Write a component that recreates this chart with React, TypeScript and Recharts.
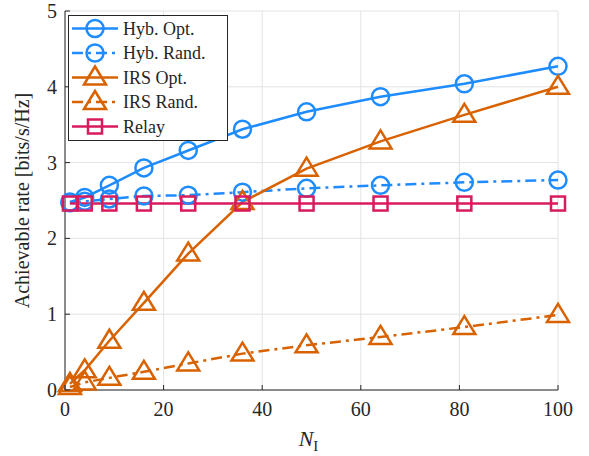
import React from 'react';
import {LineChart, Line, XAxis, YAxis, CartesianGrid} from 'recharts';

// N_I values (number of IRS elements)
const nI = [1, 4, 9, 16, 25, 36, 49, 64, 81, 100];

const hybOpt = [2.48, 2.54, 2.70, 2.93, 3.16, 3.44, 3.67, 3.87, 4.04, 4.27];
const hybRand = [2.47, 2.49, 2.52, 2.56, 2.57, 2.61, 2.66, 2.70, 2.74, 2.77];
const irsOpt = [0.08, 0.26, 0.65, 1.15, 1.80, 2.48, 2.92, 3.28, 3.63, 4.00];
const irsRand = [0.04, 0.10, 0.16, 0.24, 0.35, 0.48, 0.59, 0.70, 0.83, 0.99];
const relay = [2.46, 2.46, 2.46, 2.46, 2.46, 2.46, 2.46, 2.46, 2.46, 2.46];

const xTicks = [0, 20, 40, 60, 80, 100];
const yTicks = [0, 1, 2, 3, 4, 5];

const BLUE = '#1E8CFF';
const ORANGE = '#D96200';
const CRIMSON = '#D81B5E';
const AXIS = '#262626';
const FONT = '"Liberation Serif", "DejaVu Serif", serif';
const DASHDOT = '11 5 3 5';

const series = [
    {key: 'hybOpt', name: 'Hyb. Opt.', color: BLUE, dash: undefined, shape: 'circle'},
    {key: 'hybRand', name: 'Hyb. Rand.', color: BLUE, dash: DASHDOT, shape: 'circle'},
    {key: 'irsOpt', name: 'IRS Opt.', color: ORANGE, dash: undefined, shape: 'triangle'},
    {key: 'irsRand', name: 'IRS Rand.', color: ORANGE, dash: DASHDOT, shape: 'triangle'},
    {key: 'relay', name: 'Relay', color: CRIMSON, dash: undefined, shape: 'square'},
];

const data = nI.map((n, i) => ({
    n,
    hybOpt: hybOpt[i],
    hybRand: hybRand[i],
    irsOpt: irsOpt[i],
    irsRand: irsRand[i],
    relay: relay[i],
}));

const txt = {fontFamily: FONT, fill: AXIS};

function Marker({shape, cx, cy, color}: any) {
    if (cx == null || cy == null) return null;
    if (shape === 'circle') {
        return <circle cx={cx} cy={cy} r={8.5} fill="none" stroke={color} strokeWidth={2.5}/>;
    }
    if (shape === 'triangle') {
        const pts = `${cx},${cy - 11} ${cx - 11},${cy + 7} ${cx + 11},${cy + 7}`;
        return <polygon points={pts} fill="none" stroke={color} strokeWidth={2.5}/>;
    }
    return <rect x={cx - 7} y={cy - 7} width={14} height={14} fill="none" stroke={color} strokeWidth={2.5}/>;
}

const XTick = ({x, y, payload}: any) => (
    <g>
        <line x1={x} y1={y} x2={x} y2={y - 5} stroke={AXIS}/>
        <text x={x} y={y + 26} textAnchor="middle" style={{...txt, fontSize: 20}}>
            {payload.value}
        </text>
    </g>
);

const YTick = ({x, y, payload}: any) => (
    <g>
        <line x1={x} y1={y} x2={x + 5} y2={y} stroke={AXIS}/>
        <text x={x - 8} y={y + 7} textAnchor="end" style={{...txt, fontSize: 20}}>
            {payload.value}
        </text>
    </g>
);

const TopTick = ({x, y}: any) => <line x1={x} y1={y} x2={x} y2={y + 5} stroke={AXIS}/>;
const RightTick = ({x, y}: any) => <line x1={x} y1={y} x2={x - 5} y2={y} stroke={AXIS}/>;

const LegendBox = () => (
    <svg width={160} height={126} style={{position: 'absolute', left: 68, top: 15}}>
        <rect x={0.5} y={0.5} width={159} height={125} fill="white" stroke={AXIS}/>
        {series.map((s, i) => {
            const cy = 13.5 + i * 24.5;
            return (
                <g key={s.key}>
                    <line x1={4} y1={cy} x2={50} y2={cy} stroke={s.color} strokeWidth={2.5}
                          strokeDasharray={s.dash}/>
                    <Marker shape={s.shape} cx={27} cy={cy} color={s.color}/>
                    <text x={55} y={cy + 6} style={{...txt, fontSize: 18}}>{s.name}</text>
                </g>
            );
        })}
    </svg>
);

const XLabel = ({viewBox}: any) => (
    <text x={viewBox.x + viewBox.width / 2 - 3} y={446} textAnchor="middle" style={{...txt, fontSize: 22}}>
        <tspan fontStyle="italic">N</tspan>
        <tspan style={{fontSize: 15}} dy={5}>I</tspan>
    </text>
);

export default function App() {
    return (
        <div style={{position: 'absolute', left: 0, top: 0, width: 589, height: 456, background: 'white'}}>
            <LineChart width={589} height={456} data={data}
                       margin={{top: 11, right: 31, bottom: 0, left: 0}}>
                <CartesianGrid stroke="#E3E3E3" strokeWidth={1}/>
                <XAxis dataKey="n" type="number" domain={[0, 100]} ticks={xTicks} height={66}
                       tickSize={0} tickMargin={0} tickLine={false} stroke={AXIS}
                       tick={<XTick/>} label={<XLabel/>}/>
                <XAxis xAxisId="top" dataKey="n" type="number" domain={[0, 100]} ticks={xTicks}
                       orientation="top" height={0} tickSize={0} tickMargin={0} tickLine={false}
                       stroke={AXIS} tick={<TopTick/>}/>
                <YAxis type="number" domain={[0, 5]} ticks={yTicks} width={65}
                       tickSize={0} tickMargin={0} tickLine={false} stroke={AXIS}
                       tick={<YTick/>}
                       label={{
                           value: 'Achievable rate [bits/s/Hz]',
                           angle: -90,
                           position: 'insideLeft',
                           offset: 22,
                           style: {textAnchor: 'middle', fontFamily: FONT, fontSize: 20, fill: AXIS},
                       }}/>
                <YAxis yAxisId="right" orientation="right" type="number" domain={[0, 5]} ticks={yTicks}
                       width={0} tickSize={0} tickMargin={0} tickLine={false} stroke={AXIS}
                       tick={<RightTick/>}/>
                {series.map((s) => (
                    <Line key={s.key} dataKey={s.key} name={s.name} stroke={s.color} strokeWidth={2.5}
                          strokeDasharray={s.dash} isAnimationActive={false}
                          dot={(p: any) => <Marker key={`${s.key}-${p.index}`} shape={s.shape} cx={p.cx}
                                                   cy={p.cy} color={s.color}/>}/>
                ))}
            </LineChart>
            <LegendBox/>
        </div>
    );
}
